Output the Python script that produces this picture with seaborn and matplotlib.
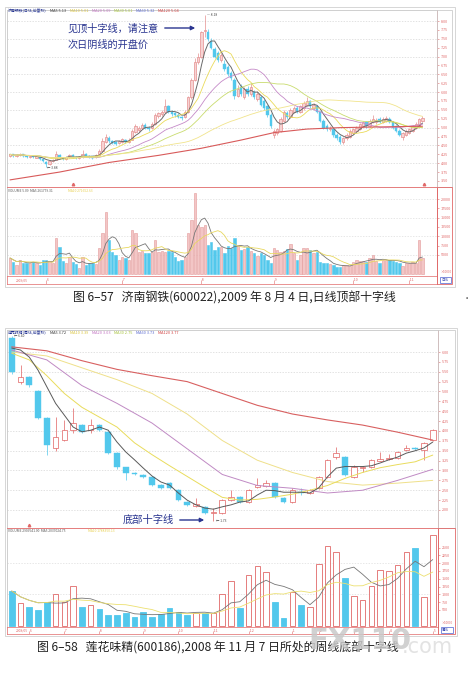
import numpy as np
import pandas as pd
import seaborn as sns
import matplotlib.pyplot as plt
from matplotlib.patches import Rectangle

sns.set_style('white')
plt.rcParams['font.family'] = ['Noto Sans CJK SC', 'DejaVu Sans']

W, H = 477, 683

# ---------------- chart 6-57: 济南钢铁 daily ----------------
opens1 = [4.20, 4.25, 4.19, 4.22, 4.25, 4.20, 4.18, 4.21, 4.16, 4.18,
          4.12, 4.03, 3.98, 4.05, 4.10, 4.24, 4.15, 4.12, 4.17, 4.23,
          4.18, 4.15, 4.17, 4.25, 4.20, 4.19, 4.17, 4.22, 4.35, 4.60,
          4.72, 4.62, 4.60, 4.56, 4.60, 4.66, 4.60, 4.66, 4.88, 4.92,
          4.98, 5.08, 5.00, 4.98, 5.10, 5.32, 5.38, 5.45, 5.60, 5.45,
          5.40, 5.36, 5.30, 5.30, 5.45, 5.85, 6.35, 6.85, 7.00, 7.72,
          7.70, 7.45, 7.20, 7.10, 6.90, 6.80, 6.70, 6.55, 6.35, 5.90,
          6.15, 5.85, 6.10, 5.95, 6.00, 5.80, 5.85, 5.75, 5.60, 5.35,
          4.80, 4.85, 4.90, 5.20, 5.40, 5.30, 5.45, 5.55, 5.45, 5.55,
          5.65, 5.75, 5.55, 5.60, 5.45, 5.20, 5.05, 4.95, 4.95, 4.80,
          4.75, 4.60, 4.70, 4.75, 4.85, 4.90, 4.95, 5.05, 5.15, 5.05,
          5.15, 5.15, 5.25, 5.15, 5.20, 5.25, 5.15, 5.05, 4.90, 4.75,
          4.80, 4.85, 4.90, 5.00, 5.05, 5.20]
closes1 = [4.25, 4.20, 4.23, 4.26, 4.20, 4.18, 4.21, 4.17, 4.19, 4.12,
           4.05, 3.98, 4.05, 4.10, 4.25, 4.15, 4.12, 4.18, 4.24, 4.18,
           4.15, 4.17, 4.26, 4.20, 4.18, 4.16, 4.22, 4.35, 4.62, 4.75,
           4.62, 4.58, 4.55, 4.62, 4.68, 4.60, 4.66, 4.90, 5.05, 4.98,
           5.08, 5.00, 4.95, 5.10, 5.35, 5.40, 5.45, 5.62, 5.45, 5.38,
           5.35, 5.30, 5.28, 5.45, 5.85, 6.35, 6.85, 7.00, 7.68, 7.76,
           7.50, 7.25, 7.00, 6.90, 7.05, 6.65, 6.50, 6.40, 5.90, 6.10,
           5.95, 6.10, 5.95, 6.15, 5.85, 5.95, 5.65, 5.55, 5.35, 5.05,
           4.90, 4.95, 5.25, 5.45, 5.30, 5.50, 5.55, 5.45, 5.60, 5.70,
           5.75, 5.60, 5.65, 5.45, 5.20, 5.00, 4.95, 5.00, 4.80, 4.70,
           4.60, 4.70, 4.80, 4.90, 4.95, 5.00, 5.10, 5.15, 5.05, 5.20,
           5.25, 5.22, 5.15, 5.25, 5.28, 5.15, 5.00, 4.90, 4.80, 4.85,
           4.90, 4.95, 5.05, 5.10, 5.25, 5.28]
highs1 = [4.27, 4.27, 4.25, 4.29, 4.27, 4.22, 4.24, 4.23, 4.21, 4.19,
          4.14, 4.06, 4.08, 4.13, 4.35, 4.27, 4.18, 4.21, 4.27, 4.26,
          4.20, 4.20, 4.38, 4.28, 4.23, 4.21, 4.25, 4.40, 4.70, 4.82,
          4.76, 4.66, 4.63, 4.65, 4.72, 4.69, 4.70, 4.95, 5.10, 5.06,
          5.12, 5.12, 5.04, 5.15, 5.40, 5.45, 5.50, 5.80, 5.65, 5.50,
          5.44, 5.40, 5.34, 5.50, 5.90, 6.40, 6.95, 7.10, 7.72, 8.18,
          7.78, 7.52, 7.28, 7.15, 7.10, 6.90, 6.75, 6.60, 6.40, 6.20,
          6.22, 6.15, 6.18, 6.25, 6.05, 6.02, 5.90, 5.80, 5.65, 5.40,
          4.95, 5.00, 5.30, 5.50, 5.48, 5.55, 5.62, 5.60, 5.65, 5.75,
          5.85, 5.78, 5.70, 5.65, 5.48, 5.25, 5.10, 5.05, 5.00, 4.85,
          4.80, 4.75, 4.85, 4.95, 5.00, 5.05, 5.14, 5.20, 5.20, 5.25,
          5.35, 5.28, 5.30, 5.30, 5.32, 5.30, 5.18, 5.08, 4.95, 4.88,
          4.95, 4.98, 5.08, 5.15, 5.28, 5.33]
lows1 = [4.18, 4.17, 4.17, 4.20, 4.18, 4.15, 4.16, 4.15, 4.14, 4.10,
         4.02, 3.88, 3.95, 4.02, 4.08, 4.12, 4.08, 4.10, 4.15, 4.15,
         4.12, 4.13, 4.15, 4.17, 4.15, 4.13, 4.15, 4.20, 4.33, 4.56,
         4.58, 4.54, 4.50, 4.53, 4.57, 4.57, 4.57, 4.64, 4.85, 4.88,
         4.95, 4.97, 4.90, 4.95, 5.08, 5.28, 5.34, 5.42, 5.42, 5.34,
         5.30, 5.26, 5.22, 5.27, 5.42, 5.80, 6.30, 6.80, 6.95, 7.55,
         7.45, 7.20, 6.95, 6.85, 6.85, 6.60, 6.45, 6.35, 5.82, 5.85,
         5.90, 5.80, 5.90, 5.90, 5.80, 5.75, 5.60, 5.50, 5.30, 5.00,
         4.70, 4.80, 4.88, 5.15, 5.25, 5.26, 5.40, 5.40, 5.42, 5.50,
         5.60, 5.55, 5.50, 5.40, 5.15, 4.95, 4.90, 4.90, 4.75, 4.65,
         4.55, 4.55, 4.65, 4.72, 4.82, 4.87, 4.92, 5.02, 5.00, 5.02,
         5.12, 5.10, 5.12, 5.12, 5.17, 5.12, 4.97, 4.87, 4.76, 4.65,
         4.77, 4.82, 4.87, 4.97, 5.02, 5.17]
vols1 = [4200, 3200, 2300, 3650, 2770, 2770, 2950, 3200, 2950, 2300,
         3650, 3650, 3500, 2900, 9600, 7200, 3400, 2800, 4500, 3200,
         2500, 1500, 4400, 2300, 2800, 2900, 2700, 6900, 11000, 16600,
         9000, 5900, 5000, 3650, 4500, 4200, 3700, 11700, 11000, 5900,
         6100, 5400, 5400, 5900, 9000, 5900, 6100, 5900, 6100, 5900,
         4500, 3400, 3600, 4500, 10800, 14400, 21700, 12900, 12500, 12900,
         7700, 8600, 6350, 7250, 7000, 5450, 7400, 6800, 9500, 7700,
         6350, 6550, 7250, 6100, 5600, 4700, 5450, 4950, 3650, 2770,
         6800, 6350, 5900, 6150, 6550, 7950, 5450, 3650, 4950, 6800,
         6800, 6350, 5450, 5900, 3200, 2950, 2770, 2600, 2300, 1700,
         1900, 2300, 2300, 2050, 3200, 3650, 3400, 3500, 3200, 4100,
         4950, 3500, 2950, 3650, 3650, 3650, 3500, 3200, 2950, 2050,
         2770, 2950, 3200, 2950, 9000, 4100]
ma120_idx1 = [0, 15, 30, 45, 58, 70, 80, 90, 100, 112, 125]
ma120_1 = [3.53, 3.75, 4.02, 4.22, 4.42, 4.65, 4.86, 4.96, 5.00, 5.02, 5.04]
date_idx1 = [11, 34, 58, 80, 104, 121]
date_lab1 = ['6', '7', '8', '9', '10', '11']
price_ticks1 = [3.50, 3.75, 4.00, 4.25, 4.50, 4.75, 5.00, 5.25, 5.50, 5.75,
                6.00, 6.25, 6.50, 6.75, 7.00, 7.25, 7.50, 7.75, 8.00]
vol_ticks1 = [5000, 7500, 10000, 12500, 15000, 17500, 20000]

# ---------------- chart 6-58: 莲花味精 weekly ----------------
opens2 = [6.35, 5.25, 5.37, 5.00, 4.33, 3.57, 3.78, 4.02, 4.15, 4.02,
          4.15, 3.98, 3.44, 3.09, 2.94, 2.88, 2.84, 2.63, 2.68, 2.50,
          2.20, 2.10, 2.08, 1.92, 1.93, 2.25, 2.33, 2.20, 2.58, 2.60,
          2.68, 2.30, 2.20, 2.46, 2.43, 2.56, 2.84, 3.34, 3.34, 2.84,
          3.06, 3.09, 3.25, 3.28, 3.32, 3.52, 3.57, 3.52, 3.77]
closes2 = [5.50, 5.37, 5.17, 4.33, 3.65, 3.85, 4.02, 4.20, 3.98, 4.15,
           4.03, 3.45, 3.09, 2.94, 2.91, 2.84, 2.63, 2.56, 2.56, 2.25,
           2.13, 2.15, 1.92, 1.94, 2.25, 2.33, 2.20, 2.50, 2.63, 2.68,
           2.33, 2.20, 2.50, 2.44, 2.50, 2.84, 3.27, 3.44, 2.88, 3.09,
           3.09, 3.27, 3.28, 3.31, 3.47, 3.57, 3.55, 3.70, 4.02]
highs2 = [6.40, 5.67, 5.40, 5.05, 4.36, 4.36, 4.28, 4.58, 4.18, 4.30,
          4.17, 4.00, 3.46, 3.10, 2.96, 2.90, 2.86, 2.65, 2.70, 2.52,
          2.22, 2.30, 2.10, 2.05, 2.27, 2.50, 2.35, 2.52, 2.80, 2.76,
          2.70, 2.32, 2.55, 2.55, 2.52, 2.86, 3.29, 3.60, 3.36, 3.15,
          3.12, 3.30, 3.47, 3.42, 3.50, 3.65, 3.59, 3.72, 4.05]
lows2 = [5.45, 5.20, 5.12, 4.30, 3.40, 3.50, 3.75, 3.95, 3.95, 3.96,
         4.00, 3.42, 3.05, 2.76, 2.88, 2.80, 2.60, 2.53, 2.52, 2.22,
         2.10, 2.08, 1.90, 1.73, 1.90, 2.22, 2.17, 2.18, 2.55, 2.57,
         2.30, 2.18, 2.18, 2.38, 2.40, 2.54, 2.82, 3.30, 2.85, 2.82,
         2.95, 3.07, 3.23, 3.26, 3.30, 3.50, 3.53, 3.27, 3.75]
vols2 = [1110, 735, 585, 500, 767, 1012, 767, 1270, 585, 660,
         532, 340, 340, 415, 265, 447, 286, 362, 575, 447,
         340, 393, 393, 415, 1012, 1430, 575, 1620, 1910, 1730,
         767, 255, 1087, 660, 585, 1965, 2550, 2370, 1535, 950,
         820, 1270, 1780, 1760, 1945, 2350, 2477, 907, 2900]
ma5_2 = [6.10, 6.05, 5.87, 5.54, 5.12, 4.70, 4.40, 4.10, 3.98, 4.02,
         4.10, 4.02, 3.72, 3.47, 3.27, 3.06, 2.86, 2.71, 2.63, 2.43,
         2.25, 2.13, 2.05, 2.02, 2.08, 2.13, 2.20, 2.23, 2.38, 2.50,
         2.49, 2.45, 2.45, 2.45, 2.43, 2.56, 2.84, 3.06, 3.10, 3.10,
         3.10, 3.12, 3.19, 3.27, 3.34, 3.44, 3.50, 3.57, 3.72]
ma10_idx2 = list(range(0, 49, 2))
ma10_2 = [5.97, 5.80, 5.40, 4.95, 4.60, 4.35, 4.10, 3.70, 3.40, 3.12,
          2.85, 2.58, 2.32, 2.25, 2.27, 2.33, 2.40, 2.50, 2.62, 2.80,
          2.95, 3.07, 3.15, 3.22, 3.39]
ma_idx2 = [0, 4, 8, 12, 16, 20, 24, 28, 32, 36, 40, 44, 48]
ma20_2 = [6.05, 5.80, 5.15, 4.70, 4.20, 3.55, 2.90, 2.62, 2.55, 2.43, 2.50, 2.75, 3.03]
ma30_2 = [6.00, 5.90, 5.60, 5.30, 4.95, 4.43, 3.76, 3.26, 2.95, 2.72, 2.63, 2.68, 2.75]
ma120_2 = [6.13, 6.03, 5.78, 5.56, 5.40, 5.25, 4.95, 4.65, 4.43, 4.28, 4.15, 3.97, 3.77]
date_idx2 = [2, 6, 10, 15, 19, 23, 27, 32, 35, 39, 43, 48]
date_lab2 = ['6', '7', '8', '9', '10', '11', '12', '1', '2', '3', '4', '5']
price_ticks2 = [2.00, 2.25, 2.50, 2.75, 3.00, 3.25, 3.50, 3.75, 4.00, 4.25,
                4.50, 4.75, 5.00, 5.25, 5.50, 5.75, 6.00]
vol_ticks2 = [500, 750, 1000, 1250, 1500, 1750, 2000, 2250, 2500]

CYAN = '#52c8ec'
RED = '#e06868'
NAVY = '#2a3590'

fig = plt.figure(figsize=(W / 100, H / 100), dpi=100)
fig.patch.set_facecolor('white')


def rect(x0, y0, x1, y1):
    return [x0 / W, 1 - y1 / H, (x1 - x0) / W, (y1 - y0) / H]


def fxy(x, y):
    return (x / W, 1 - y / H)


def ftext(x, y, s, **kw):
    kw.setdefault('va', 'center')
    fig.text(x / W, 1 - y / H, s, **kw)


def plain(ax, xlim, ylim):
    ax.set_xlim(*xlim)
    ax.set_ylim(*ylim)
    ax.set_xticks([])
    ax.set_facecolor('white')
    for sp in ax.spines.values():
        sp.set_color('#c8c8c8')
        sp.set_linewidth(0.6)


def candles(ax, o, c, h, l, width, up_face, up_edge):
    o, c, h, l = map(np.asarray, (o, c, h, l))
    idx = np.arange(len(o))
    up = c >= o
    body = np.maximum(np.abs(c - o), 0.012)
    bottom = np.minimum(o, c)
    ax.vlines(idx[up], l[up], h[up], color=up_edge, lw=0.5, zorder=2)
    ax.vlines(idx[~up], l[~up], h[~up], color=CYAN, lw=0.5, zorder=2)
    ax.bar(idx[up], body[up], width, bottom=bottom[up], color=up_face,
           edgecolor=up_edge, linewidth=0.5, zorder=3)
    ax.bar(idx[~up], body[~up], width, bottom=bottom[~up], color=CYAN,
           edgecolor=CYAN, linewidth=0.3, zorder=3)
    return up


def ma_line(ax, x, y, color, lw=0.6):
    sns.lineplot(x=x, y=y, ax=ax, color=color, linewidth=lw,
                 estimator=None, sort=False, legend=False, zorder=4)
    ax.set_xlabel('')
    ax.set_ylabel('')


def right_labels(ax, ticks, fmt):
    ax.yaxis.tick_right()
    ax.set_yticks(ticks)
    ax.set_yticklabels([fmt(t) for t in ticks])
    ax.tick_params(axis='y', length=1.5, width=0.4, color=RED,
                   labelcolor=RED, labelsize=2.7, pad=1.2)


def date_row(ax, idx, labels, first):
    ax.set_ylim(0, 1)
    ax.set_yticks([])
    ax.vlines(idx, 0, 0.5, color=RED, lw=0.4)
    for i, s in zip(idx, labels):
        ax.text(i, 0.45, ' ' + s, color=RED, fontsize=2.6, va='center')
    ax.text(0.02, 0.45, first, color=RED, fontsize=2.4, va='center',
            transform=ax.transAxes)
    for sp in ax.spines.values():
        sp.set_color(RED)
        sp.set_linewidth(0.5)


def legend_row(y, pieces):
    for x, s, col in pieces:
        ftext(x, y, s, color=col, fontsize=2.8)


def strip(x0, y0, x1, y1, color):
    fig.add_artist(Rectangle(fxy(x0, y1), (x1 - x0) / W, (y1 - y0) / H,
                             transform=fig.transFigure, fill=False,
                             edgecolor=color, linewidth=0.6))


# ================= chart 1 =================
fig.add_artist(Rectangle(fxy(5, 287), 450 / W, 280 / H, transform=fig.transFigure,
                         fill=False, edgecolor='#d0d0d0', linewidth=0.6))
xl1 = (-0.91, 129.4)
n1 = len(closes1)
idx1 = np.arange(n1)
c1 = pd.Series(closes1)

ax1 = fig.add_axes(rect(7, 10, 437, 187))
plain(ax1, xl1, (3.33, 8.31))
ax1.hlines(np.arange(4.0, 8.01, 0.5), xl1[0], xl1[1], color='#d6d6d6',
           lw=0.5, linestyles=(0, (2, 2)), zorder=1)
up1 = candles(ax1, opens1, closes1, highs1, lows1, 0.72, '#f7d3d3', '#e59090')
ma_line(ax1, idx1, c1.rolling(5, min_periods=1).mean(), '#6a6a6a', 0.7)
ma_line(ax1, idx1, c1.rolling(10, min_periods=1).mean(), '#eadb5a')
ma_line(ax1, idx1, c1.rolling(20, min_periods=1).mean(), '#c58ac8')
ma_line(ax1, idx1, c1.rolling(30, min_periods=1).mean(), '#c9dc6e')
ma_line(ax1, idx1, c1.rolling(60, min_periods=1).mean(), '#f1e48c')
ma_line(ax1, ma120_idx1, ma120_1, '#d85a5a', 0.8)
right_labels(ax1, price_ticks1, lambda t: f'{t:.2f}')
ax1.spines['right'].set_color(RED)
ax1.spines['bottom'].set_color(RED)
ax1.text(59.6, 8.17, '— 8.18', fontsize=2.4, color='#444444', va='center')
ax1.text(11.3, 3.87, '← 3.88', fontsize=2.4, color='#444444', va='center')
ax1.plot([19, 125.5], [3.42, 3.42], ls='none', marker='^', ms=1.8, color=RED)

legend_row(11, [(8, '济南钢铁(日线,前复权)', '#1f2f90'),
                (50, f'MA5 {c1.rolling(5).mean().iloc[-1]:.2f}', '#333333'),
                (70, f'MA10 {c1.rolling(10).mean().iloc[-1]:.2f}', '#d9c43c'),
                (92, f'MA20 {c1.rolling(20).mean().iloc[-1]:.2f}', '#c070c0'),
                (114, f'MA30 {c1.rolling(30).mean().iloc[-1]:.2f}', '#a6c23c'),
                (136, f'MA60 {c1.rolling(60).mean().iloc[-1]:.2f}', '#5a6ad0'),
                (158, f'MA120 {ma120_1[-1]:.2f}', '#d04040')])

ftext(68, 29, '见顶十字线，请注意', color=NAVY, fontsize=7.3)
ftext(68, 45, '次日阴线的开盘价', color=NAVY, fontsize=7.3)
ax1.annotate('', xy=fxy(198, 28), xytext=fxy(162, 28), xycoords='figure fraction',
             textcoords='figure fraction',
             arrowprops=dict(arrowstyle='-|>', color=NAVY, lw=1.0, mutation_scale=6))

axv1 = fig.add_axes(rect(7, 187, 437, 276))
plain(axv1, xl1, (-643, 23220))
axv1.hlines([5000, 10000, 15000, 20000], xl1[0], xl1[1], color='#dddddd',
            lw=0.5, linestyles=(0, (2, 2)), zorder=1)
vcol1 = np.where(up1, '#f3c6c6', CYAN)
vedge1 = np.where(up1, '#e39a9a', CYAN)
axv1.bar(idx1, vols1, 0.72, color=vcol1, edgecolor=vedge1, linewidth=0.4, zorder=2)
v1 = pd.Series(vols1)
ma_line(axv1, idx1, v1.rolling(5, min_periods=1).mean(), '#777777', 0.6)
ma_line(axv1, idx1, v1.rolling(10, min_periods=1).mean(), '#e8d860', 0.6)
right_labels(axv1, vol_ticks1, lambda t: f'{t:d}')
for sp in ('right', 'top', 'bottom'):
    axv1.spines[sp].set_color(RED)
ftext(8, 191, 'VOLUME 5.09  MA5 261779.31', color='#555555', fontsize=2.4)
ftext(68, 191, 'MA10 271652.63', color='#e8d050', fontsize=2.4)

axd1 = fig.add_axes(rect(7, 276, 437, 284))
plain(axd1, xl1, (0, 1))
date_row(axd1, date_idx1, date_lab1, '2009/05')
strip(437, 10, 452, 187, '#cccccc')
strip(437, 187, 452, 284, RED)
strip(440, 277, 451, 283, '#6a7ad8')
ftext(441, 280, '日线', color='#3a4ab0', fontsize=2.4)
ftext(440, 272, '×10000', color=RED, fontsize=2.2)

ftext(73, 298, '图 6–57   济南钢铁(600022),2009 年 8 月 4 日,日线顶部十字线',
      color='#222222', fontsize=8.6)
ftext(463, 298, '·', color='#555555', fontsize=6)

# ================= chart 2 =================
fig.add_artist(Rectangle(fxy(5, 636), 452 / W, 308 / H, transform=fig.transFigure,
                         fill=False, edgecolor='#d0d0d0', linewidth=0.6))
xl2 = (-0.54, 48.6)
n2 = len(closes2)
idx2 = np.arange(n2)

ax2 = fig.add_axes(rect(7, 330, 438, 528))
plain(ax2, xl2, (1.544, 6.557))
ax2.hlines(np.arange(2.0, 6.01, 0.5), xl2[0], xl2[1], color='#d6d6d6',
           lw=0.5, linestyles=(0, (2, 2)), zorder=1)
up2 = candles(ax2, opens2, closes2, highs2, lows2, 0.64, 'white', '#e06060')
ma_line(ax2, ma_idx2, ma120_2, '#d86060', 0.8)
ma_line(ax2, ma_idx2, ma30_2, '#efe08a', 0.7)
ma_line(ax2, ma_idx2, ma20_2, '#c08ac4', 0.7)
ma_line(ax2, ma10_idx2, ma10_2, '#e9dc5c', 0.7)
ma_line(ax2, idx2, ma5_2, '#5a5a5a', 0.7)
right_labels(ax2, price_ticks2, lambda t: f'{t:.2f}')
ax2.spines['right'].set_color(RED)
ax2.spines['bottom'].set_color(RED)
ax2.text(0.3, 6.40, '← 6.40', fontsize=2.4, color='#444444', va='center')
ax2.text(23.3, 1.73, '← 1.73', fontsize=2.4, color='#444444', va='center')
ax2.plot([2], [1.62], ls='none', marker='^', ms=1.8, color=RED)

legend_row(333, [(8, '莲花味精(周线,前复权)', '#1f2f90'),
                 (50, f'MA5 {ma5_2[-1]:.2f}', '#333333'),
                 (70, f'MA10 {ma10_2[-1]:.2f}', '#d9c43c'),
                 (92, f'MA20 {ma20_2[-1]:.2f}', '#c070c0'),
                 (114, f'MA30 {ma30_2[-1]:.2f}', '#a6c23c'),
                 (136, 'MA60 3.73', '#5a6ad0'),
                 (158, f'MA120 {ma120_2[-1]:.2f}', '#d04040')])

ftext(123, 520, '底部十字线', color=NAVY, fontsize=7.4)
ax2.annotate('', xy=fxy(207, 520), xytext=fxy(177, 520), xycoords='figure fraction',
             textcoords='figure fraction',
             arrowprops=dict(arrowstyle='-|>', color=NAVY, lw=1.0, mutation_scale=6))

axv2 = fig.add_axes(rect(7, 528, 438, 627))
plain(axv2, xl2, (-45, 3128))
axv2.hlines([1000, 2000], xl2[0], xl2[1], color='#dddddd',
            lw=0.5, linestyles=(0, (2, 2)), zorder=1)
vcol2 = np.where(up2, 'white', CYAN)
vedge2 = np.where(up2, '#e06868', CYAN)
axv2.bar(idx2, vols2, 0.64, color=vcol2, edgecolor=vedge2, linewidth=0.6, zorder=2)
v2 = pd.Series(vols2)
ma_line(axv2, idx2, v2.rolling(5, min_periods=1).mean(), '#777777', 0.6)
ma_line(axv2, idx2, v2.rolling(10, min_periods=1).mean(), '#ece070', 0.6)
right_labels(axv2, vol_ticks2, lambda t: f'{t:d}')
for sp in ('right', 'top', 'bottom'):
    axv2.spines[sp].set_color(RED)
ftext(8, 531, 'VOLUME 2909541.00  MA5 2037024.75', color='#555555', fontsize=2.4)
ftext(88, 531, 'MA10 1788350.13', color='#e8d050', fontsize=2.4)

axd2 = fig.add_axes(rect(7, 627, 438, 634))
plain(axd2, xl2, (0, 1))
date_row(axd2, date_idx2, date_lab2, '2008/05')
strip(438, 330, 455, 528, '#cccccc')
strip(438, 528, 455, 634, RED)
strip(441, 627, 453, 633, '#6a7ad8')
ftext(442, 630, '周线', color='#3a4ab0', fontsize=2.4)
ftext(441, 623, '×10000', color=RED, fontsize=2.2)

ftext(37, 648, '图 6–58   莲花味精(600186),2008 年 11 月 7 日所处的周线底部十字线',
      color='#222222', fontsize=8.6)
ftext(308, 641, 'FX110', color='#c9c9c9', fontsize=21, fontweight='bold',
      family=['DejaVu Sans'], alpha=0.85)
ftext(402, 647, '.com', color='#dedede', fontsize=15, family=['DejaVu Sans'], alpha=0.85)

fig.savefig('out.png', dpi=100)
